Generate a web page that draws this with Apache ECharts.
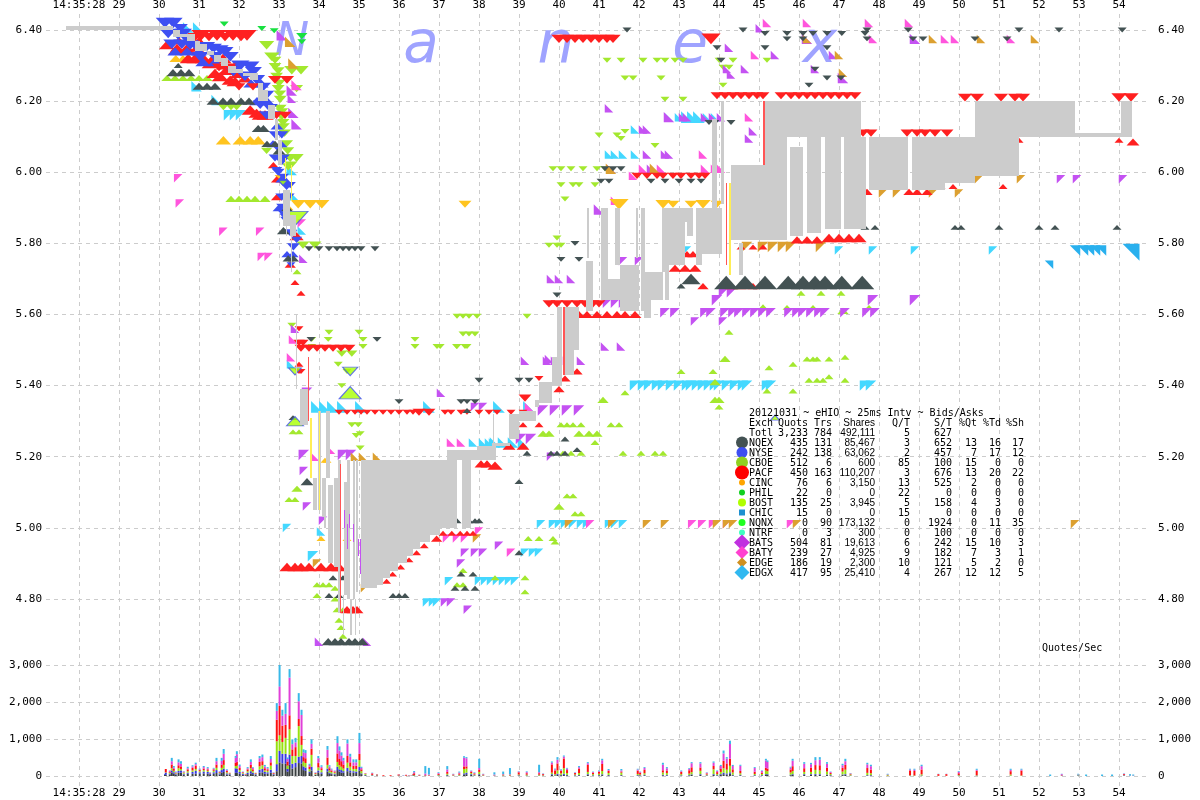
<!DOCTYPE html>
<html>
<head>
<meta charset="utf-8">
<style>html,body{margin:0;padding:0;background:#fff}#c{width:1200px;height:800px}</style>
<script src="https://cdn.jsdelivr.net/npm/echarts@6/dist/echarts.min.js"></script>
</head>
<body>
<div id="c"></div>
<script>
// Each marker row: [price, shares, time, time, ...]
const pacfDown=[[6.215,300,43.95,44.15,44.35,44.55,44.75,44.95,45.1,45.55,45.8,46,46.2,46.4,46.6,46.8,47,47.2,47.4],[6.385,1000,31.05,31.45,31.85,32.2],[6.38,500,30.9,31.25,31.65,32.05],[6.375,500,40,40.2,40.4,40.6,40.8,41,41.2,41.35],[6.375,1000,43.8],[5.505,300,33.55,33.75,33.95,34.15,34.35,34.55,34.75],[5.325,100,34.5,34.7,34.9,35.05,35.2,35.4,35.6,35.8,36,36.2,36.35,37.15,37.3,37.55,37.7,38.0,38.25,38.45,38.8,39.1],[5.325,300,36.5,36.75],[5.63,300,39.75,39.95,40.2,40.45,40.65,40.85,41],[5.99,200,41.95,42.2,42.45,42.6,42.85,43.05,43.3,43.5,43.65],[6.26,400,32.9,33.2],[6.16,300,32.94,33.15],[5.365,300,39.15],[5.42,100,39.5],[5.89,200,43.1],[6.11,300,47.6,47.8,48.7,48.95,49.15,49.4,49.7],[6.21,400,50.15,50.45,51.05,51.4,51.6],[6.21,500,54,54.3],[5.44,100,33.5,33.55],[5.52,200,33.5,33.6],[5.56,100,33.5],[6.295,400,31.5,31.75],[6.24,300,32.0,32.35]];
const pacfUp=[[5.81,300,45.95,46.2,46.45],[5.815,500,46.75,47,47.25,47.5],[5.6,300,40.5,40.7,40.95,41.2,41.45,41.65,41.9],[5.73,300,42.9,43.15,43.4],[5.68,200,43.6,44.3,44.55,44.85],[5.79,100,44.55,44.85,45.1],[5.77,200,43.2,43.35],[5.96,100,49.55,49.85,51.1],[5.945,200,47.7,48.75,48.95,49.2],[6.09,100,51.5,54],[6.085,300,54.35],[4.85,100,35.69],[4.87,100,35.84],[4.89,100,36.04],[4.91,100,36.25],[4.93,100,36.44],[4.95,100,36.63],[4.97,200,36.94],[4.985,100,37.1,37.32,37.53,37.7,37.85],[4.89,500,33.2,33.4,33.55,33.75,34.05,34.3,34.5],[4.77,300,34.7,34.85,34.95],[5.18,300,38.05,38.2],[5.175,500,38.4],[5.23,300,38.75,39.1],[5.29,100,39.1,39.5],[5.39,200,40],[5.42,200,40.15],[5.44,200,40.45],
[6.358,500,30.19],[6.344,700,30.44,30.69],[6.32,700,30.73,30.9,31.11,31.36,31.6],[6.306,700,31.28],[6.287,700,31.69],[6.278,700,31.4,31.98],[6.269,700,31.53],[6.259,700,31.78],[6.255,700,31.9],[6.264,500,32.15],[6.175,700,32.28],[6.166,600,32.44],[6.161,700,32.53,32.65],[6.3,400,31.6,31.9],[6.35,400,30.45,30.7,30.95],[6.37,300,30.5,30.8,31],[6.02,200,32.86],[5.98,200,32.94],[5.93,200,32.94],[5.82,400,33.44],[5.74,200,33.28],[5.46,100,33.5],[5.69,100,33.4],[5.66,100,33.55]];
const nqexDown=[[5.785,100,33.75,34,34.25,34.45,34.6,34.75,34.9,35.05,35.4],[6.4,100,41.7,44.6,47.7,48.73,51.5,52.5,54.08],[6.39,100,45.15,45.7,46.1,46.35,46.7,47.07,47.65],[6.375,100,47.7,48.85,49.1,50.4,51.2,45.7,46.1],[6.35,100,43.95,45.15,46.7],[6.315,100,44.05],[6.29,100,46.4],[6.265,100,47.05,46.7],[6.245,100,46.25],[6.14,100,43.75,43.9,44.3],[6.01,100,41.15,41.35,41.55],[5.975,100,41.05,41.25],[5.975,100,42.3,42.65,43.0,43.3,43.55],[5.8,100,40.4],[5.755,100,40.05,40.5],[5.655,100,39.95],[5.53,100,33.8,35.45],[5.355,100,36.0,37.55,37.7,37.9],[5.415,100,38.0,39.0,39.25],[5.99,100,48.05,48.2]];
const nqexUp=[[5.69,2000,44.18,44.65,45.15,45.73,46.1,46.4,46.65,47.07,47.58],[5.7,1000,43.3],[5.68,100,43.05],[6.28,300,30.35,30.55,30.75],[6.3,100,30.48],[6.242,300,31,31.2,31.4],[6.2,300,31.35,31.6,31.8,32.05,32.25],[6.123,300,32.48,32.61],[6.08,200,32.7,32.9],[5.836,300,33.11],[5.758,200,33.23,33.36],[5.82,100,44.9,45.05],[5.845,100,47.65,47.9,49.9,50.05,51.0,52.0,52.4,53.95],[4.68,300,34.23,34.4,34.55,34.75,34.9,35.08],[4.81,100,34.25,34.5,35.85,36.0,36.15],[4.86,100,34.35,34.6],[5.33,100,37.7],[5.13,300,33.7],[5.02,100,37.45,37.75,37.9,38.0],[4.93,100,39.0],[5.13,100,39.0],[4.87,100,37.55,37.85],[4.83,100,37.4,37.65,37.9],[5.25,100,40.15],[5.22,100,40.45],[5.21,100,39.2,39.8,39.95,40.15],[5.31,100,33.35],[6.06,300,33.0],[5.9,200,33.2]];
const nyseDown=[[6.42,900,30.15,30.36],[6.405,500,30.53],[6.39,700,30.23,30.61],[6.386,700,30.48],[6.376,700,30.69],[6.36,700,30.32,30.57],[6.358,700,30.78],[6.353,700,30.94,31.19],[6.348,700,31.36],[6.344,700,31.53],[6.339,700,31.65],[6.325,700,31.03,31.4,31.78],[6.3,900,32.03],[6.297,900,32.28],[6.283,700,31.86,32.36],[6.27,700,32.15],[6.26,700,32.44],[6.24,500,32.61],[6.217,500,32.69],[6.19,500,32.53],[6.18,500,32.78],[6.16,500,32.69,32.86],[6.105,300,32.9,33.07],[6.067,300,32.98],[6.04,300,32.9,33.11],[6.03,300,33.07],[6,300,32.98],[5.96,300,33.19],[5.93,300,33.07,33.23],[5.885,300,33.11],[5.865,300,33.19],[5.83,300,33.28],[5.79,300,33.36],[5.74,100,33.3],[6.006,200,32.94],[5.987,200,33.11],[5.964,200,33.28],[5.931,200,33.19],[5.903,200,33.07],[5.875,200,33.15],[5.828,200,33.32],[5.81,200,33.44]];
const nyseUp=[[6.34,500,30.4,30.7,31],[6.31,500,31.1,31.4],[6.25,500,32.3,32.55],[6.2,500,32.45,32.7],[6.13,300,32.95],[6.08,300,32.85,33.05],[5.98,200,33.05,33.15],[5.9,300,33],[5.77,200,33.2,33.35]];
const cboeDown=[[6.357,500,32.69],[6.325,500,32.82],[6.297,300,32.9],[6.27,300,32.94],[6.235,300,32.98,33.44],[6.205,300,33.03],[6.18,300,33.03],[6.156,300,33.07],[6.128,300,33.11],[6.08,300,33.19],[6.04,400,33.28,33.44],[6.015,300,33.23],[6.287,500,33.32,33.55],[6.315,300,32.9],[6.285,300,32.98],[6.25,300,33.0],[6.22,300,33.02],[6.17,300,33.07],[6.14,300,33.1],[6.11,300,33.14],[6.06,300,33.22],[6.02,300,33.3],[6.184,300,31.61,31.8,31.94],[6.06,200,32.69],[5.795,300,33.6,33.9],[5.57,100,33.32],[5.55,100,34.25,35],[5.53,100,33.82,34.23,35.1,36.4],[5.51,100,33.82,35.1,36.4,37.03,37.44,37.7],[5.49,200,34.57,34.82],[5.46,100,34.48],[5.44,100,34.7],[5.4,100,34.57],[5.29,100,34.82,34.98],[5.26,100,34.93],[5.265,100,35.03],[5.225,100,35.03],[5.595,100,37.45,37.6,37.75,37.95,39.2],[5.545,100,37.6,37.75,37.9],[5.51,100,36.95,37.45,37.65],[6.315,100,41.2,41.55,42.1,42.45,42.65,42.9,43.1,44.0,44.35,45.2],[6.265,100,41.65,41.85,42.55],[6.295,100,44.1,44.25],[6.245,100,44.1],[6.205,100,42.65,43.1],[6.105,100,41.0,41.45],[6.095,100,41.55],[6.115,100,41.65],[6.075,100,42.4],[6.01,100,39.85,40.05,40.3,40.6,40.95,41.15],[5.965,100,40.05,40.35,40.5,40.9],[5.925,100,40.15],[5.815,100,39.95],[5.795,100,39.75,39.95,40.05]];
const cboeUp=[[6.265,200,30.2,30.4,30.6,30.8,31,31.2],[5.925,200,31.8,32,32.2,32.4,32.65],[5.29,100,40.05,40.2,40.35,40.55,41.3,41.5],[5.265,200,39.6,39.75,40.5,40.75,40.95],[5.24,100,40.9],[5.21,100,40.1,40.3,40.55,41.6,42.05,42.4,42.6],[5.09,100,40.2,40.35],[5.06,200,40],[5.04,100,40.4,40.55],[4.97,100,39.23,39.5,39.85],[4.96,100,39.9],[4.86,100,38.4,39.15],[4.82,100,39.15],[4.84,100,37.45,37.6],[4.88,100,37.6],[5.44,100,43.05,43.85],[5.55,100,44.25],[5.475,200,44.15],[5.36,200,41.1],[5.38,100,41.65],[5.41,200,43.9],[5.36,200,44,43.9],[5.34,100,44],[5.45,100,45.25],[5.46,100,45.85],[5.475,100,46.2,46.35,46.45,46.75],[5.48,100,47.15],[5.415,100,46.25,46.45,46.6],[5.425,100,46.75],[5.415,100,47.15],[5.385,100,45.2],[5.385,100,45.85],[5.62,200,45.1],[5.62,100,45.7,46.35,47.75],[5.61,200,47.1],[5.66,100,46.05,46.55,47.05],[4.81,100,33.95],[4.84,100,33.95,34.1,34.25],[4.83,100,34.4],[4.8,100,34.4],[4.74,100,34.5],[4.72,100,34.55],[4.695,100,34.6],[4.77,100,34.45,34.6],[5.27,100,33.35,33.5],[5.11,200,33.45],[5.08,100,33.25,33.4],[5.76,200,33.3],[5.72,100,33.45]];
const cincDown=[[5.91,500,33.48,33.78,34.07],[5.91,300,37.65],[5.91,1000,41.5],[5.91,500,42.6,43.6],[5.91,300,42.85,43.3,43.95],[5.985,100,33.0]];
const cincUp=[[6.32,300,30.42,30.6,30.75],[6.09,500,31.61,32.03,32.28,32.48],[5.19,100,34.2,34.15],[4.97,100,34.05,34.7],[5.9,100,33.25]];
const batsHigh=[[6.385,200,33.07],[6.23,200,33.32],[6.207,100,33.32],[6.167,200,33.36],[6.135,200,33.44],[5.757,100,33.61],[6.405,100,45.02],[6.375,200,46.2,48.9],[6.35,100,44.25],[6.33,100,45.4,46.85],[6.29,100,44.2,44.65,46.4],[6.275,100,44.3],[6.265,200,47.1],[6.155,200,42.75],[6.155,100,43.1,43.2,43.65,43.85,44.05,45.45],[6.12,100,42.1,42.2],[6.115,100,44.85],[6.095,100,44.75],[6.05,100,42.2,42.65,42.75],[6.01,100,41.3,42.3],[6.18,100,41.25],[5.895,200,41.0],[5.7,100,39.8,40,40.3],[5.47,100,39.15,39.7,39.9,40.2,40.55],[5.475,100,39.75],[5.51,100,41.15,41.55],[5.38,100,37.05],[4.68,100,34],[4.68,100,35.2],[5.56,100,33.4]];
const batsLow=[[5.605,150,42.65,42.9,43.65,43.8,44.15,44.35,44.5,44.7,44.9,45.1,45.3,45.75,45.95,46.1,46.3,46.5,46.65,47.15,47.7,47.9],[5.64,200,43.95,47.85,48.9],[5.33,200,39.6,39.9,40.2,40.5],[5.34,100,37.9,38.1],[5.25,200,39.05,39.3],[5.2,100,39.8],[5.205,200,33.62,34.6,34.8],[5.58,100,43.4,44.1],[5.98,100,52.55,52.95,54.1],[5.66,100,44.1,44.3],[5.63,100,41.2,41.4,41.6],[5.16,100,33.62],[5.06,100,33.7],[5.02,100,34.1],[4.79,100,37.15,37.3],[4.77,100,37.72],[4.93,100,37.65,37.9,38.1],[4.95,100,38.5],[5.75,100,41.6,42],[4.9,100,37.55],[5.38,200,33.7]];
const batyHigh=[[6.42,100,45.2,46.2,47.75,48.75],[6.375,100,47.85,49.65,49.9,51.3],[6.245,200,33.44],[6.33,100,44.9],[6.155,100,44.75],[6.05,100,43.6],[6.01,100,42.1,42.55,43.65,43.9,44.05],[5.99,100,41.85],[5.92,100,41.4],[5.22,100,34.3],[5.2,100,33.9],[5.34,100,39.25],[5.24,100,37.3,37.55],[5.53,100,33.35],[5.48,100,33.3]];
const batyLow=[[5.983,100,30.48],[5.912,100,30.52],[5.833,100,31.61,32.53],[5.762,100,32.57,32.74],[5.856,100,33.57],[5.01,100,40.78,43.33,43.58,43.85,44.2,45.8],[4.97,100,37.2,37.45,37.65],[4.99,100,38],[4.93,100,38.8]];
const edgeHigh=[[6.367,200,33.28],[6.306,200,33.36],[6.33,100,47],[6.375,100,49.35,50.55,51.9,46.2],[6.01,200,41.3,42.4],[6.28,100,47.1],[5.2,100,34.9,35.1,35.45]];
const edgeLow=[[5.01,100,40.25,41.33,42.2,42.65,43.95,44.2,44.35,45.95,52.9],[4.97,100,37.95],[5.79,200,44.7,45.1,45.35,45.6,45.8,46.55],[5.94,100,48.1,48.45,49.35,50],[5.98,100,50.5,51.55],[4.83,100,35.15],[4.9,100,33.95]];
const edgxHigh=[[5.34,300,33.95,34.15,34.35,34.6,35.05,36.75,38.5,39.25],[5.24,200,38.4,38.6,38.85,39.1],[5.24,100,37.85,38.1,38.25,38.35],[6.155,300,43.2,43.35,43.5],[6.155,100,42.75,43.0,43.35,43.7,43.9],[6.05,100,41.25,41.4,41.6,41.9],[6.12,100,41.9],[6.407,200,30.73,30.98],[6.006,200,33.32],[5.935,200,33.36],[5.836,100,33.57],[6.242,200,30.94],[6.203,200,31.44],[4.99,100,34.05],[5.46,100,33.3]];
const edgxLow=[[5.4,200,41.9,42.1,42.25,42.45,42.6,42.8,43,43.2,43.3,43.45,43.6,43.75,43.9,44,44.2,44.4,44.6,44.7,45.2,45.3,47.65,47.8],[5.78,100,43.2,47.0,47.85,48.9,50.85],[5.01,100,39.55,39.85,40.0,40.15,40.35,40.55,40.7,41.25,41.4,41.6],[4.93,100,39.15,39.35,39.5],[4.85,100,38.0,38.15,38.3,38.45,38.6,38.75,38.9,37.25],[4.79,100,36.7,36.85,36.95],[4.92,200,33.85],[5.0,100,33.2],[6.16,200,31.75,31.9,32.05]];
const edgxRight=[[5.78,200,52.9,53.1,53.25,53.4,53.55],[5.775,1000,54.3],[5.74,100,52.25]];
const nqnxDown=[[6.417,100,31.63],[6.404,100,32.57],[6.398,100,32.88],[6.383,200,33.57],[6.367,100,33.57]];
const bostDown=[[5.87,2500,33.4],[5.44,500,34.78],[5.97,100,33.1],[5.44,300,33.4]];
const bostUp=[[5.38,1500,34.78],[5.3,700,33.4],[5.31,100,45.4]];

// Quoted spread blocks: [from, to, low, high]
const spreadBlocks=[[27.68,30.35,6.4,6.41],[30.35,30.53,6.38,6.4],[30.53,30.7,6.38,6.39],[30.7,30.9,6.37,6.39],[30.9,31.03,6.34,6.37],[31.03,31.2,6.34,6.36],[31.2,31.38,6.33,6.34],[31.38,31.55,6.31,6.33],[31.55,31.73,6.3,6.32],[31.73,31.93,6.28,6.3],[31.93,32.1,6.28,6.29],[32.1,32.28,6.27,6.28],[32.28,32.48,6.26,6.28],[32.48,32.6,6.2,6.25],[32.6,32.73,6.2,6.23],[32.73,32.9,6.15,6.19],[32.9,32.98,6.09,6.15],[32.98,33.08,6.02,6.09],[33.1,33.28,5.85,5.95],[33.28,33.43,5.82,5.88],[33.53,33.73,5.29,5.39],
[33.86,33.96,5.05,5.14],[33.97,34.05,5.05,5.33],[34.07,34.18,5.03,5.14],[34.18,34.28,5.14,5.33],[34.12,34.18,5,5.07],[34.23,34.36,4.9,5.12],[34.38,34.48,4.89,5.14],[34.48,34.55,4.76,5.19],[34.63,34.71,4.81,5.13],[34.71,34.78,4.8,5.19],[34.84,34.9,4.8,5.19],[34.93,34.98,4.82,5.19],[35.04,35.28,4.83,5.19],[35.28,35.44,4.83,5.19],[35.44,35.6,4.84,5.19],[35.6,35.78,4.86,5.19],[35.78,35.98,4.88,5.19],[35.98,36.19,4.9,5.19],[36.19,36.35,4.92,5.19],[36.35,36.53,4.94,5.19],[36.53,36.78,4.96,5.19],[36.78,37.03,4.98,5.19],[37.03,37.19,5,5.19],[37.19,37.44,5,5.22],[37.57,37.75,5,5.22],[37.44,38.43,5.19,5.22],[37.95,38.43,5.22,5.23],[38.33,38.78,5.23,5.24],[38.75,39,5.25,5.32],[39,39.43,5.3,5.33],[39.4,39.5,5.34,5.36],[39.5,39.83,5.35,5.41],[39.83,40.08,5.4,5.48],[39.95,40.08,5.48,5.62],[40.15,40.38,5.43,5.62],[40.38,40.5,5.5,5.62],[40.68,40.84,5.61,5.75],[40.7,40.75,5.76,5.9],[41.05,41.23,5.64,5.9],[41.23,41.53,5.64,5.7],[41.53,42,5.61,5.74],[41.4,41.53,5.74,5.9],[41.93,41.97,5.76,5.9],[42.05,42.15,5.61,5.9],[42.13,42.6,5.64,5.72],[42.13,42.3,5.59,5.64],[42.58,42.65,5.72,5.9],[42.65,42.75,5.64,5.9],[42.75,43.03,5.74,5.9],[43.03,43.2,5.86,5.9],[43.03,43.14,5.74,5.86],[43.2,43.35,5.82,5.9],[43.43,43.58,5.74,5.9],[43.58,44.08,5.77,5.9],[43.83,43.95,5.9,6.15],[44.05,44.13,5.91,6.2],[44.3,45.13,5.81,6.02],[44.5,44.6,5.71,5.8],[45.13,45.7,5.81,6.2],[45.78,46.1,5.82,6.07],[46.2,46.55,5.83,6.1],[46.65,47.05,5.84,6.1],[47.13,47.68,5.84,6.1],[45.7,47.55,6.1,6.2],[47.75,48.73,5.95,6.1],[48.83,49.65,5.95,6.1],[49.65,50.4,5.97,6.1],[50.4,51.5,5.99,6.1],[50.4,52.9,6.1,6.2],[52.9,54.05,6.1,6.11],[54.05,54.33,6.1,6.2]];
const spreadThin=[[33.42,33.45,5.39,5.6],[33.18,33.2,5.82,5.86],[33.3,33.32,5.72,5.84],[34.6,34.63,4.7,4.81],[34.78,34.82,4.7,4.8],[34.9,34.93,4.7,4.8],[37.75,37.8,5.0,5.19],[38.35,38.38,5.23,5.32]];
const quoteLinesYellow=[[33.78,33.83,5.14,5.31],[34.0,34.03,5.05,5.33],[44.26,44.31,5.71,5.97],[33.3,33.33,5.92,6.02],[33.15,33.18,5.98,6.04]];
const quoteLinesRed=[[34.52,34.56,4.76,5.18],[33.72,33.76,5.3,5.48],[40.1,40.14,5.43,5.62],[45.11,45.15,6.02,6.2],[44.17,44.21,5.74,5.97]];
const quoteLinesPurple=[[34.62,34.64,5.0,5.05],[34.7,34.72,4.94,5.01],[34.75,34.78,5.0,5.04],[34.85,34.87,4.96,5.01],[34.98,35,4.92,4.97],[35.02,35.04,4.87,4.97]];

// Quotes per second, stacked by exchange
const volTime=[30.13,30.15,30.25,30.3,30.35,30.4,30.47,30.53,30.6,30.7,
30.82,30.9,31.0,31.1,31.2,31.26,31.35,31.42,31.5,31.55,
31.6,31.68,31.75,31.9,31.93,32.0,32.08,32.15,32.2,32.28,
32.33,32.4,32.5,32.57,32.63,32.7,32.78,32.85,32.93,33.0,
33.07,33.15,33.2,33.25,33.32,33.4,33.48,33.55,33.6,33.65,
33.75,33.8,33.9,33.97,34.05,34.2,34.25,34.3,34.38,34.45,
34.5,34.55,34.6,34.7,34.77,34.85,34.92,35.0,35.05,35.15,
35.32,35.44,35.6,35.78,35.98,36.1,36.17,36.24,36.3,36.35,
36.37,36.5,36.65,36.74,36.98,37.2,37.35,37.5,37.62,37.68,
37.8,37.88,38.0,38.1,38.38,38.6,38.77,38.99,39.19,39.5,
39.6,39.82,39.9,39.96,40.05,40.12,40.2,40.4,40.5,40.72,
40.85,41.0,41.08,41.24,41.56,41.97,42.03,42.14,42.6,42.7,
43.06,43.26,43.32,43.54,43.7,43.87,43.96,44.05,44.12,44.2,
44.28,44.35,44.54,44.9,45.08,45.18,45.22,45.8,45.85,46.14,
46.31,46.42,46.53,46.71,46.8,47.1,47.17,47.3,47.72,47.81,
48.23,48.79,48.9,49.08,49.5,49.7,50.01,50.46,51.31,51.58,
52.3,52.59,53.0,53.2,53.6,53.85,54.15,54.3,54.38];
const volNqex=[30,40,40,90,60,30,90,90,40,60,60,60,60,70,60,30,60,80,40,90,110,40,30,90,90,60,30,20,50,70,50,30,90,100,60,60,90,30,130,370,340,330,120,300,200,240,350,340,160,140,80,150,30,100,60,120,60,50,40,160,120,90,90,130,100,90,80,150,50,20,10,10,0,0,5,0,5,0,0,10,10,5,5,5,10,20,5,10,40,50,30,10,30,5,5,5,5,10,10,10,5,30,10,30,20,30,20,10,20,30,10,15,25,20,20,15,10,20,20,15,10,15,30,30,10,30,15,30,50,40,60,20,20,15,15,30,30,20,30,30,30,35,30,25,15,25,30,10,15,15,0,5,5,10,0,0,5,5,5,5,0,0,10,0,0,0,10,0,0];
const volNyse=[20,50,20,60,40,20,50,60,20,30,50,80,40,50,50,30,40,80,30,70,90,30,20,120,110,50,30,10,40,60,40,20,80,90,50,40,80,20,190,310,260,270,70,280,130,120,170,200,100,90,40,100,10,50,40,80,30,20,20,90,60,70,40,90,50,40,40,100,20,10,10,5,0,0,5,0,0,0,0,10,5,5,5,0,5,10,5,5,30,40,20,10,20,5,5,5,5,10,5,5,5,20,10,30,10,30,10,10,10,20,10,10,20,10,10,10,10,15,15,15,10,10,15,20,10,20,10,20,40,30,40,15,15,10,10,20,20,15,20,20,20,20,20,15,10,15,20,5,10,10,0,5,0,5,0,0,5,5,5,0,0,10,10,0,0,0,10,0,0];
const volCboe=[0,10,30,60,40,20,70,40,30,40,40,50,30,40,30,10,40,60,20,60,100,30,20,60,80,50,20,10,40,80,40,15,90,100,40,40,110,10,620,420,320,430,90,680,210,180,830,300,130,120,70,320,20,80,60,100,60,40,30,130,110,90,70,140,100,60,70,180,60,30,10,5,0,0,5,0,5,0,5,10,10,5,5,5,15,30,10,20,120,110,30,20,60,10,5,10,10,20,20,20,10,40,30,90,40,150,50,20,50,60,30,35,90,50,60,30,20,40,60,50,30,40,60,90,20,130,30,60,120,100,175,60,40,30,30,100,80,60,85,60,60,110,100,80,30,80,120,25,60,50,20,10,10,30,5,5,15,10,30,10,0,5,10,0,0,0,5,0,0];
const volPacf=[0,90,20,100,50,10,80,70,10,50,70,90,30,40,40,10,40,90,20,90,130,40,10,90,110,60,20,10,50,90,50,15,120,110,60,40,90,20,580,800,440,350,110,380,180,240,190,240,120,130,60,170,20,120,50,200,60,40,30,230,170,150,110,180,120,90,90,170,50,10,40,20,20,20,25,5,20,10,5,20,49,15,13,10,30,50,20,35,70,60,40,30,60,20,5,20,15,60,40,40,30,223,100,190,70,264,80,40,120,190,40,50,190,60,30,90,50,90,60,70,60,90,130,90,30,90,50,80,200,170,190,85,60,60,40,70,70,80,130,100,120,130,140,100,30,100,130,20,130,100,15,130,120,130,45,45,50,120,90,130,0,10,5,0,0,0,25,5,5];
const volBats=[0,0,30,90,40,20,80,70,20,30,40,40,20,40,30,10,20,90,10,100,170,20,10,130,200,50,10,5,30,80,40,5,100,110,50,30,90,10,240,520,270,300,70,1020,140,130,480,570,130,140,50,130,10,130,40,210,50,30,20,280,230,150,110,340,150,90,90,290,40,10,10,0,0,0,5,5,5,5,5,5,30,5,40,20,20,68,10,25,235,220,20,15,45,10,20,10,10,20,30,29,10,50,30,100,20,50,40,10,38,45,20,20,100,20,30,30,20,50,150,60,20,40,110,110,20,90,30,80,200,130,400,90,140,100,40,200,180,50,150,120,90,130,150,110,25,70,100,10,100,90,5,26,36,90,5,5,39,26,36,26,0,25,5,0,0,0,10,5,5];
const volEdgx=[0,0,10,90,40,20,80,70,10,40,30,40,20,30,30,10,20,90,10,80,130,20,0,50,80,40,10,5,30,70,20,5,60,70,40,30,80,10,210,630,160,290,40,230,130,120,220,140,80,80,30,120,10,60,40,100,30,20,10,185,110,90,70,110,80,80,80,275,30,0,10,5,0,0,0,10,0,5,5,5,30,5,200,180,20,90,10,25,40,30,10,15,250,10,60,70,170,10,20,200,10,30,20,70,20,30,20,10,30,30,10,20,40,30,40,21,10,25,52,30,20,20,30,35,10,33,15,30,78,40,90,30,29,25,15,45,40,25,50,45,35,85,70,45,10,40,65,10,42,39,20,20,25,39,5,5,20,30,30,25,40,10,20,40,40,40,10,40,30];

const tableHeader=['20121031 ~ eHIO ~ 25ms Intv ~ Bids/Asks'];
const tableColumns=['Exch','Quots','Trs','Shares','Q/T','S/T','%Qt','%Td','%Sh'];
const tableRows=[
['Totl','3,233','784','492,111','5','627','','',''],
['NQEX','435','131','85,467','3','652','13','16','17'],
['NYSE','242','138','63,062','2','457','7','17','12'],
['CBOE','512','6','600','85','100','15','0','0'],
['PACF','450','163','110,207','3','676','13','20','22'],
['CINC','76','6','3,150','13','525','2','0','0'],
['PHIL','22','0','0','22','0','0','0','0'],
['BOST','135','25','3,945','5','158','4','3','0'],
['CHIC','15','0','0','15','0','0','0','0'],
['NQNX','0','90','173,132','0','1924','0','11','35'],
['NTRF','0','3','300','0','100','0','0','0'],
['BATS','504','81','19,613','6','242','15','10','3'],
['BATY','239','27','4,925','9','182','7','3','1'],
['EDGE','186','19','2,300','10','121','5','2','0'],
['EDGX','417','95','25,410','4','267','12','12','5']];
const watermark=['N','a','n','e','x'];

// ---- presentation ----
const C={nqex:'#435253',nyse:'#3e4ff2',cboe:'#a3e82e',pacf:'#ff2020',cinc:'#ffc41f',bost:'#a8ff00',bats:'#c452f2',baty:'#ff55dd',edge:'#dca030',edgx:'#44d8ff',edgx2:'#29b0ee',nqnx:'#18e040'};
const SY={up:'path://M0 10L10 0L20 10Z',down:'path://M0 0L20 0L10 10Z',high:'path://M0 0L0 10L10 10Z',low:'path://M0 0L10 0L0 10Z',right:'path://M0 0L10 0L10 10Z'};
function flat(rows){const o=[];rows.forEach(r=>{for(let i=2;i<r.length;i++)o.push([r[i],r[0],r[1]]);});return o;}
function isoSize(v){const w=9*Math.pow(v[2]/100,0.33);return [w,w*0.55];}
function rightSize(v){const w=8.5*Math.pow(v[2]/100,0.3);return [w,w];}
function mark(rows,color,shape,extra){
  return Object.assign({type:'scatter',xAxisIndex:2,yAxisIndex:1,clip:false,silent:true,z:3,
    symbol:SY[shape],symbolSize:(shape==='up'||shape==='down')?isoSize:rightSize,
    itemStyle:{color:color,opacity:1},data:flat(rows)},extra||{});
}
function rectItem(params,api){
  const a=api.coord([api.value(0),api.value(3)]),b=api.coord([api.value(1),api.value(2)]);
  const x0=Math.round(a[0]),x1=Math.round(b[0]),y0=Math.round(a[1]),y1=Math.round(b[1]);
  return {type:'rect',shape:{x:x0,y:y0,width:Math.max(1,x1-x0),height:Math.max(1,y1-y0)},style:{fill:api.visual('color')}};
}
function rects(data,color,z){
  return {type:'custom',xAxisIndex:2,yAxisIndex:1,clip:false,silent:true,z:z,renderItem:rectItem,encode:{x:[0,1],y:[2,3]},itemStyle:{color:color},data:data};
}
function vols(arr,color){
  return {type:'bar',xAxisIndex:3,yAxisIndex:3,stack:'q',barWidth:2,silent:true,z:3,itemStyle:{color:color},data:arr.map((v,i)=>[volTime[i]*1000,v])};
}
const dash={show:true,lineStyle:{color:'#cccccc',width:1,type:[4,4]}};
const font={fontFamily:'"DejaVu Sans Mono",monospace',fontSize:11,color:'#000'};
const X0=27.175,X1=54.775;
const xFmt=v=>v===28?'14:35:28':String(v);
const boldBlue=C.nyse;
const gfx=[];
watermark.forEach((ch,i)=>{
  gfx.push({type:'text',z:1,silent:true,x:[292,421,556,690,820][i],y:[43,47,47,47,47][i],
    style:{text:ch,fill:'#9fa3ff',font:'italic '+(i===0?'46px':'58px')+' "DejaVu Sans",sans-serif',textAlign:'center',textVerticalAlign:'middle'}});
});
const TXT='10px "DejaVu Sans Mono",monospace';
const TXTN='10px "Liberation Sans",sans-serif';
function t(x,y,s,al,f){gfx.push({type:'text',z:200,silent:true,x:x,y:y,style:{text:s,fill:'#000',font:f||TXT,textAlign:al||'left',textVerticalAlign:'middle'}});}
t(749,413,tableHeader[0]);
const colX=[749,808,832,875,910,952,977,1001,1024];
tableColumns.forEach((s,i)=>t(colX[i],423,s,i?'right':'left',i===3?TXTN:TXT));
tableRows.forEach((r,k)=>r.forEach((s,i)=>t(colX[i],433+10*k,s,i?'right':'left',i===3?TXTN:TXT)));
t(1042,648,'Quotes/Sec');
const legendMarks=[['c',C.nqex,6,1],['c',C.nyse,5.5,2],['c','#90d020',6,3],['c','#ff0000',7,4],['c','#ffa500',3,5],['c','#10d020',3,6],['c','#b0ff00',4,7],['s','#1e90d0',3,8],['c','#20ff20',3.5,9],['c','#40ffc0',3,10],['d','#c030e0',8,11],['d','#ff40d0',6.5,12],['d','#d09020',5,13],['d','#30b8f0',7.5,14]];
legendMarks.forEach(m=>{
  const cx=742,cy=432.5+10*m[3],r=m[2];
  if(m[0]==='c')gfx.push({type:'circle',z:150,silent:true,shape:{cx:cx,cy:cy,r:r},style:{fill:m[1]}});
  else if(m[0]==='s')gfx.push({type:'rect',z:150,silent:true,shape:{x:cx-r,y:cy-r,width:2*r,height:2*r},style:{fill:m[1]}});
  else gfx.push({type:'polygon',z:150,silent:true,shape:{points:[[cx-r,cy],[cx,cy-r],[cx+r,cy],[cx,cy+r]]},style:{fill:m[1]}});
});

const option={
  animation:false,backgroundColor:'#fff',
  grid:[{left:79,width:1040,top:14,height:772},{left:46,width:1104,top:30,height:569},{left:46,width:1104,top:665,height:111}],
  xAxis:[
    {type:'value',gridIndex:0,position:'bottom',min:28,max:54,interval:1,axisLine:{show:false},axisTick:{show:false},splitLine:dash,axisLabel:Object.assign({margin:2,formatter:xFmt},font)},
    {type:'value',gridIndex:0,position:'top',min:28,max:54,interval:1,axisLine:{show:false},axisTick:{show:false},splitLine:{show:false},axisLabel:Object.assign({margin:3,formatter:xFmt},font)},
    {type:'value',gridIndex:1,min:X0,max:X1,show:false},
    {type:'time',gridIndex:2,min:X0*1000,max:X1*1000,show:false}
  ],
  yAxis:[
    {type:'value',gridIndex:0,min:0,max:1,show:false},
    {type:'value',gridIndex:1,position:'left',min:4.8,max:6.4,interval:0.2,axisLine:{show:false},axisTick:{show:false},splitLine:dash,axisLabel:Object.assign({margin:4,formatter:v=>v.toFixed(2)},font)},
    {type:'value',gridIndex:1,position:'right',min:4.8,max:6.4,interval:0.2,axisLine:{show:false},axisTick:{show:false},splitLine:{show:false},axisLabel:Object.assign({margin:8,formatter:v=>v.toFixed(2)},font)},
    {type:'value',gridIndex:2,position:'left',min:0,max:3000,interval:1000,axisLine:{show:false},axisTick:{show:false},splitLine:dash,axisLabel:Object.assign({margin:4,formatter:v=>v.toLocaleString('en-US')},font)},
    {type:'value',gridIndex:2,position:'right',min:0,max:3000,interval:1000,axisLine:{show:false},axisTick:{show:false},splitLine:{show:false},axisLabel:Object.assign({margin:8,formatter:v=>v.toLocaleString('en-US')},font)}
  ],
  graphic:{elements:gfx},
  series:[
    mark(edgxLow,C.edgx,'low'),mark(edgxHigh,C.edgx,'high'),mark(edgxRight,C.edgx2,'right'),
    mark(cboeDown,C.cboe,'down'),mark(cboeUp,C.cboe,'up'),
    mark(batsLow,C.bats,'low'),mark(batsHigh,C.bats,'high'),mark(batyLow,C.baty,'low'),mark(batyHigh,C.baty,'high'),
    mark(edgeLow,C.edge,'low'),mark(edgeHigh,C.edge,'high'),
    mark(cincDown,C.cinc,'down'),mark(cincUp,C.cinc,'up'),
    mark(pacfUp,C.pacf,'up'),mark(nyseUp,C.nyse,'up'),mark(nyseDown,C.nyse,'down'),mark(pacfDown,C.pacf,'down'),
    mark(nqexUp,C.nqex,'up'),mark(nqexDown,C.nqex,'down'),
    mark(nqnxDown,C.nqnx,'down'),
    mark(bostDown,C.bost,'down',{itemStyle:{color:C.bost,borderColor:boldBlue,borderWidth:1}}),
    mark(bostUp,C.bost,'up',{itemStyle:{color:C.bost,borderColor:boldBlue,borderWidth:1}}),
    rects(spreadBlocks,'#cccccc',5),rects(spreadThin,'#cccccc',5),
    rects(quoteLinesYellow,'#ffee55',6),rects(quoteLinesRed,'#ff5555',6),rects(quoteLinesPurple,'#c452f2',6),
    vols(volNqex,'#3a3f40'),vols(volNyse,'#3636e0'),vols(volCboe,'#98e010'),vols(volPacf,'#ff1010'),vols(volBats,'#e040d8'),vols(volEdgx,'#38b8e8')
  ]
};
echarts.init(document.getElementById('c'),null,{renderer:'canvas'}).setOption(option);
</script>
</body>
</html>
